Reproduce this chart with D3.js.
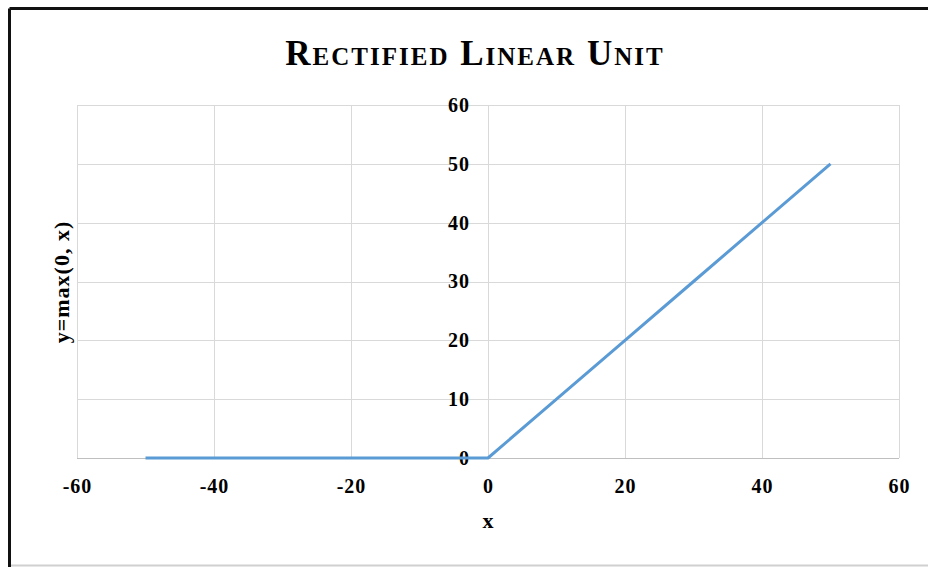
<!DOCTYPE html>
<html><head><meta charset="utf-8">
<script src="https://cdn.jsdelivr.net/npm/d3@7"></script>
<style>html,body{margin:0;padding:0;background:#fff;}svg{display:block;}</style>
</head><body>
<svg id="c" width="928" height="567"></svg>
<script>
const title = "Rectified Linear Unit";
const xLabel = "x";
const yLabel = "y=max(0, x)";
const xValues = [-50, -40, -30, -20, -10, 0, 10, 20, 30, 40, 50];
const yValues = [0, 0, 0, 0, 0, 0, 10, 20, 30, 40, 50];
const xTicks = [-60, -40, -20, 0, 20, 40, 60];
const yTicks = [0, 10, 20, 30, 40, 50, 60];

const svg = d3.select("#c");
const font = "'Liberation Serif','Times New Roman',serif";
const L = 77, R = 899, T = 105, B = 458;
const x = d3.scaleLinear().domain([-60, 60]).range([L, R]);
const y = d3.scaleLinear().domain([0, 60]).range([B, T]);
const fmt = d => String(d);

// outer frame
svg.append("line").attr("x1", 9.5).attr("x2", 928).attr("y1", 8.5).attr("y2", 8.5).attr("stroke", "#111").attr("stroke-width", 3);
svg.append("line").attr("x1", 9.5).attr("x2", 9.5).attr("y1", 8.5).attr("y2", 567).attr("stroke", "#111").attr("stroke-width", 3);
svg.append("line").attr("x1", 11).attr("x2", 928).attr("y1", 565.5).attr("y2", 565.5).attr("stroke", "#d0d0d0").attr("stroke-width", 2);

// gridlines
const g = svg.append("g");
g.selectAll(".gx").data(xTicks).enter().append("line")
  .attr("x1", d => Math.round(x(d)) + 0.5).attr("x2", d => Math.round(x(d)) + 0.5)
  .attr("y1", T).attr("y2", B).attr("stroke", "#d9d9d9");
g.selectAll(".gy").data(yTicks).enter().append("line")
  .attr("x1", L).attr("x2", R)
  .attr("y1", d => Math.round(y(d)) + 0.5).attr("y2", d => Math.round(y(d)) + 0.5)
  .attr("stroke", d => d === 0 ? "#bfbfbf" : "#d9d9d9");

// axes labels via d3 axes
const xAxis = svg.append("g").attr("transform", `translate(0,${B})`)
  .call(d3.axisBottom(x).tickValues(xTicks).tickSize(0).tickPadding(21).tickFormat(fmt));
xAxis.select(".domain").remove();
xAxis.selectAll("text").attr("font-family", font).attr("font-weight", "bold").attr("font-size", 20)
  .attr("letter-spacing", 1).attr("fill", "#000");

const yAxis = svg.append("g").attr("transform", `translate(${x(0)},0)`)
  .call(d3.axisLeft(y).tickValues(yTicks).tickSize(0).tickPadding(18).tickFormat(fmt));
yAxis.select(".domain").remove();
yAxis.selectAll("text").attr("font-family", font).attr("font-weight", "bold").attr("font-size", 20)
  .attr("letter-spacing", 1).attr("fill", "#000");

// line
const pts = xValues.map((v, i) => [v, yValues[i]]);
svg.append("path").datum(pts)
  .attr("d", d3.line().x(d => x(d[0])).y(d => y(d[1])))
  .attr("fill", "none").attr("stroke", "#5b9bd5").attr("stroke-width", 3).attr("stroke-linejoin", "round");

// titles
svg.append("text").attr("x", 475).attr("y", 65).attr("text-anchor", "middle")
  .attr("font-family", font).attr("font-weight", "bold").attr("font-size", 35)
  .attr("letter-spacing", 2)
  .style("font-variant", "small-caps").text(title);
svg.append("text").attr("x", x(0)).attr("y", 528).attr("text-anchor", "middle")
  .attr("font-family", font).attr("font-weight", "bold").attr("font-size", 22).text(xLabel);
svg.append("text").attr("transform", "translate(69,282) rotate(-90)").attr("text-anchor", "middle")
  .attr("font-family", font).attr("font-weight", "bold").attr("font-size", 22)
  .attr("letter-spacing", 1).text(yLabel);
</script>
</body></html>
